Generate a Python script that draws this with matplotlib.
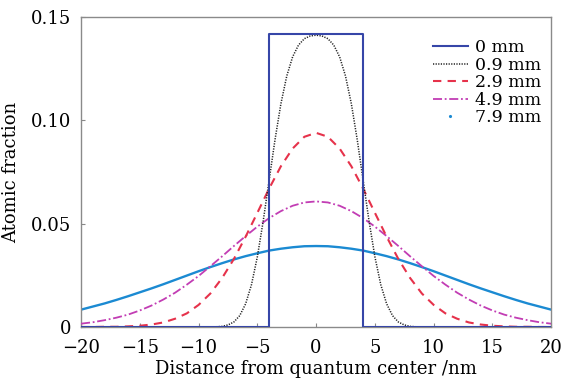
import matplotlib
matplotlib.use("Agg")
import matplotlib.pyplot as plt
from matplotlib.lines import Line2D

# ---- data ----
x_sq = [-20, -4, -4, 4, 4, 20]
y_0mm = [0, 0, 0.142, 0.142, 0, 0]

x_09 = [-20, -15, -10, -9, -8.5, -8, -7.5, -7, -6.5, -6, -5.5, -5, -4.5, -4, -3.5, -3, -2.5, -2, -1.5, -1, -0.5,
        0, 0.5, 1, 1.5, 2, 2.5, 3, 3.5, 4, 4.5, 5, 5.5, 6, 6.5, 7, 7.5, 8, 8.5, 9, 10, 15, 20]
y_09 = [0, 0, 0, 0, 0.0001, 0.0003, 0.0010, 0.0024, 0.0055, 0.0112, 0.0205, 0.0340, 0.0514, 0.0710, 0.0906,
        0.1080, 0.1215, 0.1308, 0.1365, 0.1396, 0.1409,
        0.1413,
        0.1409, 0.1396, 0.1365, 0.1308, 0.1215, 0.1080, 0.0906, 0.0710, 0.0514, 0.0340, 0.0205, 0.0112,
        0.0055, 0.0024, 0.0010, 0.0003, 0.0001, 0, 0, 0, 0]

x_int = list(range(-20, 21))
y_29 = [0, 0, 0.0001, 0.0001, 0.0003, 0.0006, 0.0012, 0.0022, 0.0040, 0.0066, 0.0107, 0.0162, 0.0237,
        0.0329, 0.0437, 0.0553, 0.0670, 0.0778, 0.0864, 0.0921,
        0.0940,
        0.0921, 0.0864, 0.0778, 0.0670, 0.0553, 0.0437, 0.0329, 0.0237, 0.0162, 0.0107, 0.0066, 0.0040,
        0.0022, 0.0012, 0.0006, 0.0003, 0.0001, 0.0001, 0, 0]
y_49 = [0.0016, 0.0023, 0.0033, 0.0045, 0.0060, 0.0080, 0.0104, 0.0133, 0.0166, 0.0205, 0.0247, 0.0294,
        0.0342, 0.0392, 0.0440, 0.0486, 0.0527, 0.0561, 0.0587, 0.0603,
        0.0608,
        0.0603, 0.0587, 0.0561, 0.0527, 0.0486, 0.0440, 0.0392, 0.0342, 0.0294, 0.0247, 0.0205, 0.0166,
        0.0133, 0.0104, 0.0080, 0.0060, 0.0045, 0.0033, 0.0023, 0.0016]
y_79 = [0.0084, 0.0099, 0.0114, 0.0131, 0.0149, 0.0168, 0.0187, 0.0207, 0.0228, 0.0249, 0.0270, 0.0290,
        0.0309, 0.0327, 0.0343, 0.0357, 0.0370, 0.0379, 0.0386, 0.0391,
        0.0392,
        0.0391, 0.0386, 0.0379, 0.0370, 0.0357, 0.0343, 0.0327, 0.0309, 0.0290, 0.0270, 0.0249, 0.0228,
        0.0207, 0.0187, 0.0168, 0.0149, 0.0131, 0.0114, 0.0099, 0.0084]

labels = ["0 mm", "0.9 mm", "2.9 mm", "4.9 mm", "7.9 mm"]
x_ticks = [-20, -15, -10, -5, 0, 5, 10, 15, 20]
y_ticks = [0, 0.05, 0.10, 0.15]
y_ticklabels = ["0", "0.05", "0.10", "0.15"]

c_sq = "#3646a8"
c_09 = "#222222"
c_29 = "#e6324b"
c_49 = "#c23db4"
c_79 = "#1b8ad2"

plt.rcParams['font.family'] = ['DejaVu Serif']

fig = plt.figure(figsize=(5.63, 3.82), dpi=100)
ax = fig.add_axes([0.144, 0.144, 0.835, 0.811])

ax.plot(x_int, y_79, color=c_79, lw=1.7, zorder=2)
ax.plot(x_int, y_49, color=c_49, lw=1.3, dashes=(5, 1.5, 1, 1.5), zorder=3)
ax.plot(x_int, y_29, color=c_29, lw=1.5, dashes=(4, 3), zorder=4)
ax.plot(x_09, y_09, color=c_09, lw=1.1, dashes=(0.8, 0.9), zorder=5)
ax.plot(x_sq, y_0mm, color=c_sq, lw=1.5, zorder=6)

handles = [
    Line2D([], [], color=c_sq, lw=1.5),
    Line2D([], [], color=c_09, lw=1.1, dashes=(0.8, 0.9)),
    Line2D([], [], color=c_29, lw=1.5, dashes=(4, 3)),
    Line2D([], [], color=c_49, lw=1.3, dashes=(5, 1.5, 1, 1.5)),
    Line2D([], [], color=c_79, lw=0, marker='.', markersize=2.5),
]
ax.legend(handles, labels, loc='upper right', bbox_to_anchor=(1.0, 0.962), frameon=False,
          fontsize=12.5, handlelength=2.0, handletextpad=0.4, labelspacing=0.03, borderaxespad=0.2)

ax.set_xlim(-20, 20)
ax.set_ylim(0, 0.15)
ax.set_xticks(x_ticks)
ax.set_xticklabels([("\u2212%d" % abs(v)) if v < 0 else str(v) for v in x_ticks])
ax.set_yticks(y_ticks)
ax.set_yticklabels(y_ticklabels)
ax.tick_params(direction='in', length=3, width=0.8, color='#888888', labelsize=13)
ax.tick_params(axis='x', pad=9)
ax.tick_params(axis='y', pad=7)
for s in ax.spines.values():
    s.set_color('#8a8a8a')
    s.set_linewidth(1.0)

ax.set_xlabel("Distance from quantum center /nm", fontsize=13, labelpad=2)
ax.set_ylabel("Atomic fraction", fontsize=13, labelpad=8)

fig.savefig("out.png", dpi=100)
